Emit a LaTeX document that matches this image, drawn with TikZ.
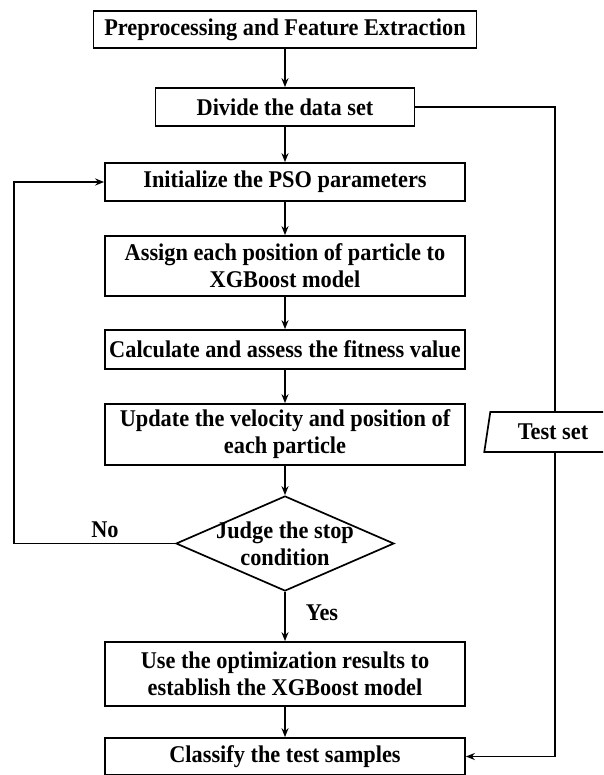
\documentclass[tikz,border=0pt]{standalone}
\usepackage{fontspec}
\setmainfont{Liberation Serif}[FakeStretch=0.93]
\usetikzlibrary{shapes.geometric,arrows.meta}
\begin{document}
\begin{tikzpicture}[x=1pt,y=-1pt,line width=1.7pt,>={Stealth[length=9pt,width=7pt]},
        font=\fontsize{24}{27}\selectfont\bfseries,
        box/.style={draw,rectangle,align=center,minimum width=360pt,inner sep=0pt},
        decide/.style={draw,diamond,aspect=2.3,align=center,minimum width=218pt,minimum height=95pt,inner sep=-4pt},
        dataio/.style={draw,trapezium,trapezium left angle=78,trapezium right angle=102,
          trapezium stretches=true,minimum width=138pt,minimum height=40pt,inner sep=0pt}]
        \clip (0,0) rectangle (603,775);
        \useasboundingbox (0,0) rectangle (603,775);
        \node[box,minimum width=383pt,minimum height=37pt] (prep) at (285,29.5) {Preprocessing and Feature Extraction};
        \node[box,minimum width=259pt,minimum height=38pt] (divide) at (285,107) {Divide the data set};
        \node[box,minimum height=38pt] (init) at (285,182) {Initialize the PSO parameters};
        \node[box,minimum height=60pt] (assign) at (285,266) {Assign each position of particle to\\XGBoost model};
        \node[box,minimum height=39pt] (fitness) at (285,349.5) {Calculate and assess the fitness value};
        \node[box,minimum height=61pt] (update) at (285,434.5) {Update the velocity and position of\\each particle};
        \node[decide] (judge) at (285,543.5) {Judge the stop\\condition};
        \node[box,minimum height=64pt] (optim) at (285,674) {Use the optimization results to\\establish the XGBoost model};
        \node[box,minimum height=37pt] (classify) at (285,756.5) {Classify the test samples};
        \node[dataio] (testset) at (553,432) {Test set};
        \node (no) at (105,530) {No};
        \node (yes) at (322,613) {Yes};
        \foreach \a/\b in {prep/divide,divide/init,init/assign,assign/fitness,fitness/update,update/judge,judge/optim,optim/classify}
          \draw[->] (\a) -- (\b);
        \coordinate (back) at (14,543.5);
        \draw[->] (judge.west) -- (back) |- (init.west);
        \draw (divide.east) -| ([xshift=2pt]testset.north);
        \draw[->] ([xshift=2pt]testset.south) |- (classify.east);
      \end{tikzpicture}
\end{document}
